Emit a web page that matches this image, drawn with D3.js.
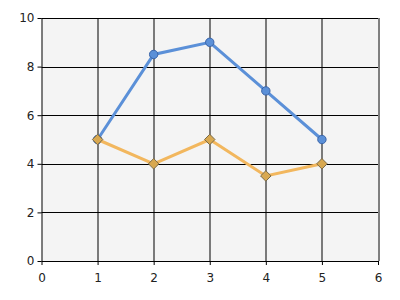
<!DOCTYPE html>
<html lang="en">
<head>
<meta charset="utf-8">
<title>Line chart</title>
<script src="https://d3js.org/d3.v7.min.js"></script>
<style>
  body { margin: 0; background: #fff; }
  .tick text { font-family: "DejaVu Sans", sans-serif; font-size: 12px; fill: #222; }
</style>
</head>
<body>
<div id="chart"></div>
<script>
// data
var xValues = [1, 2, 3, 4, 5];
var blueSeries = [5, 8.5, 9, 7, 5];
var orangeSeries = [5, 4, 5, 3.5, 4];
var xTicks = [0, 1, 2, 3, 4, 5, 6];
var yTicks = [0, 2, 4, 6, 8, 10];

var margin = {top: 18, right: 22, bottom: 39, left: 41.5},
    width = 400 - margin.left - margin.right,
    height = 300 - margin.top - margin.bottom;

var x = d3.scaleLinear().domain([0, 6]).range([0, width]);
var y = d3.scaleLinear().domain([0, 10]).range([height, 0]);

var svg = d3.select("#chart").append("svg")
    .attr("width", 400)
    .attr("height", 300)
  .append("g")
    .attr("transform", "translate(" + margin.left + "," + margin.top + ")");

// plot background
svg.append("rect")
    .attr("width", width).attr("height", height)
    .attr("fill", "#f4f4f4");

// grid lines
svg.selectAll(".vgrid").data(xTicks).enter().append("line")
    .attr("x1", function(d) { return Math.round(x(d)) + 0.5; })
    .attr("x2", function(d) { return Math.round(x(d)) + 0.5; })
    .attr("y1", 0).attr("y2", height)
    .attr("stroke", "#000").attr("stroke-width", 1);
svg.selectAll(".hgrid").data(yTicks).enter().append("line")
    .attr("y1", function(d) { return Math.round(y(d)) + 0.5; })
    .attr("y2", function(d) { return Math.round(y(d)) + 0.5; })
    .attr("x1", 0).attr("x2", width)
    .attr("stroke", "#000").attr("stroke-width", 1);

// axes
var xAxis = svg.append("g")
    .attr("transform", "translate(0," + height + ")")
    .call(d3.axisBottom(x).tickValues(xTicks).tickFormat(d3.format("d")).tickSize(4).tickPadding(8));
var yAxis = svg.append("g")
    .call(d3.axisLeft(y).tickValues(yTicks).tickFormat(d3.format("d")).tickSize(4).tickPadding(3));
[xAxis, yAxis].forEach(function(a) {
  a.select(".domain").remove();
  a.selectAll(".tick line").attr("stroke", "#000");
});

var line = d3.line()
    .x(function(d, i) { return x(xValues[i]); })
    .y(function(d) { return y(d); });

// blue series
svg.append("path").datum(blueSeries)
    .attr("d", line)
    .attr("fill", "none")
    .attr("stroke", "#5b90d8")
    .attr("stroke-width", 3);
svg.selectAll(".dot").data(blueSeries).enter().append("circle")
    .attr("cx", function(d, i) { return x(xValues[i]); })
    .attr("cy", function(d) { return y(d); })
    .attr("r", 4.2)
    .attr("fill", "#5b90d8")
    .attr("stroke", "#3a64a8")
    .attr("stroke-width", 1);

// orange series
svg.append("path").datum(orangeSeries)
    .attr("d", line)
    .attr("fill", "none")
    .attr("stroke", "#f2b75e")
    .attr("stroke-width", 3);
svg.selectAll(".diamond").data(orangeSeries).enter().append("path")
    .attr("d", d3.symbol().type(d3.symbolDiamond2).size(70))
    .attr("transform", function(d, i) { return "translate(" + x(xValues[i]) + "," + y(d) + ")"; })
    .attr("fill", "#d8a850")
    .attr("stroke", "#7a6a48")
    .attr("stroke-width", 1);
</script>
</body>
</html>
